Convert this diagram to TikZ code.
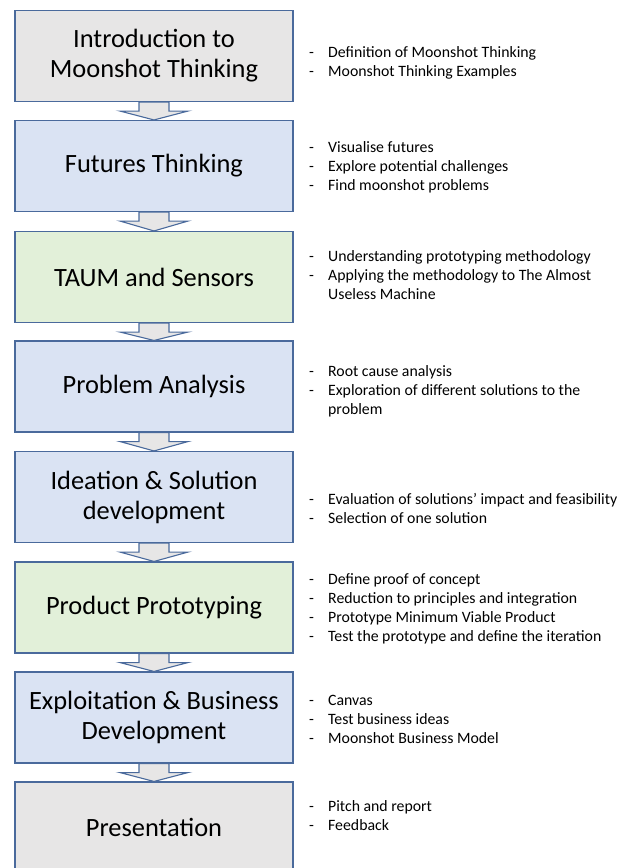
\documentclass[tikz,border=0pt]{standalone}
\usepackage{fontspec}
\setmainfont{Carlito}
\usetikzlibrary{calc}
\definecolor{edge}{HTML}{4A6A9C}
\definecolor{fgray}{HTML}{E7E6E6}
\definecolor{fblue}{HTML}{DAE3F3}
\definecolor{fgreen}{HTML}{E2F0D9}
\tikzset{
  stage/.style={draw=edge, line width=1.1pt, minimum width=278pt, minimum height=91pt,
    inner sep=0pt, align=center, font=\fontsize{26.4}{30}\selectfont},
  flow/.style={draw=edge, fill=fgray, line width=1.1pt, line join=miter},
  items/.style={anchor=west, inner sep=0pt, font=\fontsize{15.8}{19}\selectfont}
}
\newcommand{\itemlist}[1]{\begin{tabular}{@{}p{19pt}@{}l@{}}#1\end{tabular}}
\begin{document}
\begin{tikzpicture}[x=1pt,y=-1pt]
\useasboundingbox (0,0) rectangle (624,868);
\clip (0,0) rectangle (624,868);
\fill[white] (0,0) rectangle (624,868);
% stages
\node[stage, fill=fgray]  (b1) at (154,56)    {Introduction to\\Moonshot Thinking};
\node[stage, fill=fblue]  (b2) at (154,166)   {Futures Thinking};
\node[stage, fill=fgreen] (b3) at (154,277)   {TAUM and Sensors};
\node[stage, fill=fblue]  (b4) at (154,386.5) {Problem Analysis};
\node[stage, fill=fblue]  (b5) at (154,497)   {Ideation \& Solution\\development};
\node[stage, fill=fgreen] (b6) at (154,607.5) {Product Prototyping};
\node[stage, fill=fblue]  (b7) at (154,717.5) {Exploitation \& Business\\Development};
\node[stage, fill=fgray]  (b8) at (154,827.5) {Presentation};
% arrows
\foreach \a/\b in {b1/b2,b2/b3,b3/b4,b4/b5,b5/b6,b6/b7,b7/b8}{
  \draw[flow] ($(\a.south)+(-15,0)$) -- ($(\a.south)+(-15,9)$) -- ($(\a.south)+(-34,9)$)
    -- (\b.north) -- ($(\a.south)+(34,9)$) -- ($(\a.south)+(15,9)$) -- ($(\a.south)+(15,0)$) -- cycle;
}
% lists
\node[items] (t1) at (309,63) {\itemlist{-&Definition of Moonshot Thinking\\-&Moonshot Thinking Examples}};
\node[items] (t2) at (309,168) {\itemlist{-&Visualise futures\\-&Explore potential challenges\\-&Find moonshot problems}};
\node[items] (t3) at (309,277) {\itemlist{-&Understanding prototyping methodology\\-&Applying the methodology to The Almost\\&Useless Machine}};
\node[items] (t4) at (309,392) {\itemlist{-&Root cause analysis\\-&Exploration of different solutions to the\\&problem}};
\node[items] (t5) at (309,510) {\itemlist{-&Evaluation of solutions’ impact and feasibility\\-&Selection of one solution}};
\node[items] (t6) at (309,609) {\itemlist{-&Define proof of concept\\-&Reduction to principles and integration\\-&Prototype Minimum Viable Product\\-&Test the prototype and define the iteration}};
\node[items] (t7) at (309,721) {\itemlist{-&Canvas\\-&Test business ideas\\-&Moonshot Business Model}};
\node[items] (t8) at (309,817) {\itemlist{-&Pitch and report\\-&Feedback}};
\end{tikzpicture}
\end{document}
